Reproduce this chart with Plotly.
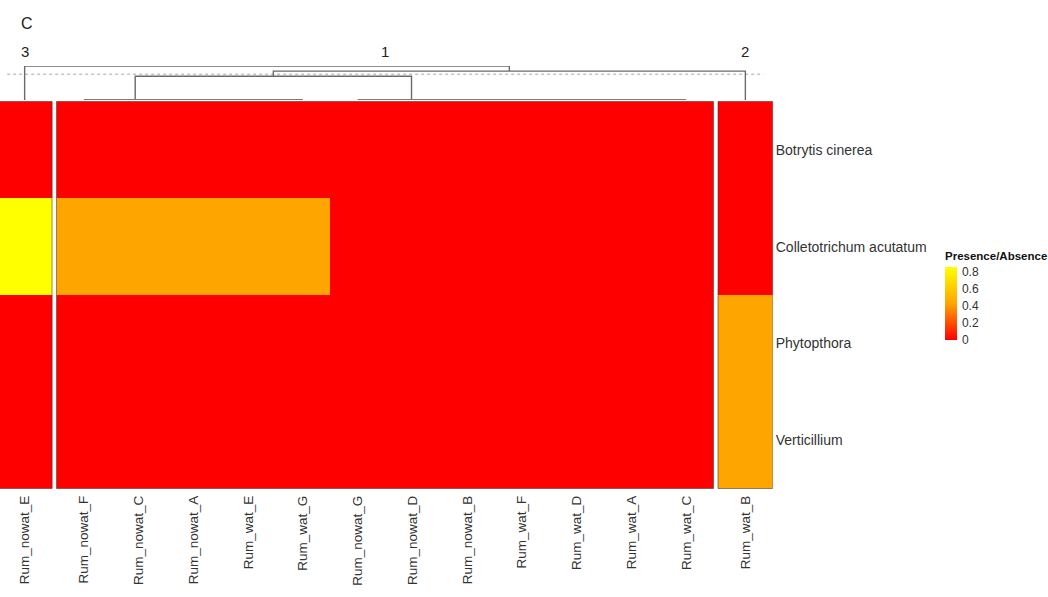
import numpy as np
import plotly.graph_objects as go

# ---- data -------------------------------------------------------------
species = ["Botrytis cinerea", "Colletotrichum acutatum", "Phytopthora", "Verticillium"]

cluster3_samples = ["Rum_nowat_E"]
cluster1_samples = ["Rum_nowat_F", "Rum_nowat_C", "Rum_nowat_A", "Rum_wat_E", "Rum_wat_G",
                    "Rum_nowat_G", "Rum_nowat_D", "Rum_nowat_B", "Rum_wat_F", "Rum_wat_D",
                    "Rum_wat_A", "Rum_wat_C"]
cluster2_samples = ["Rum_wat_B"]

cluster3_values = [[0.0], [0.857], [0.0], [0.0]]
cluster1_values = [
    [0.0, 0.0, 0.0, 0.0, 0.0, 0.0, 0.0, 0.0, 0.0, 0.0, 0.0, 0.0],
    [0.429, 0.429, 0.429, 0.429, 0.429, 0.0, 0.0, 0.0, 0.0, 0.0, 0.0, 0.0],
    [0.0, 0.0, 0.0, 0.0, 0.0, 0.0, 0.0, 0.0, 0.0, 0.0, 0.0, 0.0],
    [0.0, 0.0, 0.0, 0.0, 0.0, 0.0, 0.0, 0.0, 0.0, 0.0, 0.0, 0.0],
]
cluster2_values = [[0.0], [0.0], [0.429], [0.429]]

panel_labels = ["3", "1", "2"]

# column dendrogram: (left, right, height); leaves are sample names
left_chain = ("Rum_nowat_F", ("Rum_nowat_C", ("Rum_nowat_A", ("Rum_wat_E", "Rum_wat_G", 0.0), 0.0), 0.0), 0.0)
right_chain = ("Rum_nowat_G", ("Rum_nowat_D", ("Rum_nowat_B", ("Rum_wat_F", ("Rum_wat_D",
               ("Rum_wat_A", "Rum_wat_C", 0.0), 0.0), 0.0), 0.0), 0.0), 0.0)
col_tree = ("Rum_nowat_E", ((left_chain, right_chain, 0.70), "Rum_wat_B", 0.85), 1.0)
cut_height = 0.76

# ---- geometry ---------------------------------------------------------
W, H = 1048, 597
COL_PX = 54.75          # pixel width of one column
GAP = 0.082             # gap between slices, in column widths
X0 = 0.05               # left edge of the visible x range

panels = [(cluster3_samples, cluster3_values),
          (cluster1_samples, cluster1_values),
          (cluster2_samples, cluster2_values)]

FONT = "Liberation Sans, Arial, sans-serif"
colorscale = [[0.0, "#FF0000"], [0.5, "#FFA500"], [1.0, "#FFFF00"]]

fig = go.Figure()

centers = {}
tickvals, ticktext = [], []
panel_bounds = []
start = 0.0
for names, vals in panels:
    n = len(names)
    edges = start + np.arange(n + 1)
    fig.add_trace(go.Heatmap(
        z=vals, x=edges, y=species, coloraxis="coloraxis",
        hoverinfo="skip", xaxis="x", yaxis="y"))
    for i, nm in enumerate(names):
        c = start + i + 0.5
        centers[nm] = c
        tickvals.append(c)
        ticktext.append(nm)
    panel_bounds.append((start, start + n))
    start = start + n + GAP
x_max = start - GAP

# panel outlines
for a, b in panel_bounds:
    fig.add_shape(type="rect", xref="x", yref="y", x0=a, x1=b, y0=-0.5, y1=len(species) - 0.5,
                  line=dict(color="rgba(70,50,50,0.55)", width=1), fillcolor="rgba(0,0,0,0)")

# dendrogram segments
seg_x, seg_y = [], []
zero_x, zero_y = [], []


def walk(node):
    if isinstance(node, str):
        return centers[node], 0.0
    left, right, h = node
    xl, hl = walk(left)
    xr, hr = walk(right)
    if h == 0:
        zero_x.extend([xl, xr, None])
        zero_y.extend([0.0, 0.0, None])
    else:
        seg_x.extend([xl, xl, xr, xr, None])
        seg_y.extend([hl, h, h, hr, None])
    return (xl + xr) / 2.0, h


walk(col_tree)

fig.add_trace(go.Scatter(x=[X0 + 0.13, x_max - 0.17], y=[cut_height, cut_height], mode="lines",
                         line=dict(color="#a8a8a8", width=1, dash="dot"),
                         xaxis="x", yaxis="y2", hoverinfo="skip", showlegend=False))
fig.add_trace(go.Scatter(x=seg_x, y=seg_y, mode="lines",
                         line=dict(color="#6a6a6a", width=1.4),
                         xaxis="x", yaxis="y2", hoverinfo="skip", showlegend=False))
fig.add_trace(go.Scatter(x=zero_x, y=zero_y, mode="lines",
                         line=dict(color="#8a7670", width=2.2),
                         xaxis="x", yaxis="y2", hoverinfo="skip", showlegend=False))

# slice labels above the dendrogram
for (a, b), lab in zip(panel_bounds, panel_labels):
    fig.add_annotation(x=(a + b) / 2.0, y=1 - 52 / H, xref="x", yref="paper", text=lab,
                       yanchor="middle", xanchor="center",
                       showarrow=False, font=dict(family=FONT, size=15, color="#222222"))

fig.add_annotation(x=27 / W, y=1 - 23 / H, xref="paper", yref="paper", text="C",
                   yanchor="middle", xanchor="center",
                   showarrow=False, font=dict(family=FONT, size=16, color="#222222"))

# legend title (an annotation, so it does not push the right margin)
fig.add_annotation(x=943 / W, y=1 - 256 / H, xref="paper", yref="paper",
                   text="<b>Presence/Absence</b>", xanchor="left", yanchor="middle",
                   showarrow=False, font=dict(family=FONT, size=11.5, color="#111111"))

x_right_px = (x_max - X0) * COL_PX
legend_ticks = [0, 0.2, 0.4, 0.6, 0.8]

fig.update_layout(
    width=W, height=H,
    margin=dict(l=0, r=0, t=0, b=0),
    paper_bgcolor="white", plot_bgcolor="white",
    showlegend=False,
    font=dict(family=FONT, color="#333333"),
    xaxis=dict(domain=[0, x_right_px / W], range=[X0, x_max], anchor="y",
               tickvals=tickvals, ticktext=ticktext, tickangle=-90,
               tickfont=dict(family=FONT, size=13.5, color="#333333"),
               ticklabelstandoff=3,
               showgrid=False, zeroline=False, showline=False, ticks=""),
    yaxis=dict(domain=[1 - 489 / H, 1 - 101 / H], side="right", anchor="x",
               autorange="reversed", showgrid=False, zeroline=False, showline=False, ticks="",
               ticklabelstandoff=2,
               tickfont=dict(family=FONT, size=14, color="#333333")),
    yaxis2=dict(domain=[1 - 100 / H, 1 - 66 / H], range=[0, 1], anchor="x", visible=False),
    coloraxis=dict(
        colorscale=colorscale, cmin=0, cmax=0.857,
        colorbar=dict(
            x=945 / W, xanchor="left", xref="paper",
            y=1 - 340 / H, yanchor="bottom", yref="paper",
            lenmode="pixels", len=73, thickness=12, thicknessmode="pixels",
            outlinewidth=0, ticks="outside", ticklen=3, tickcolor="rgba(0,0,0,0)",
            xpad=0, ypad=0,
            tickvals=legend_ticks, ticktext=[str(t) if t else "0" for t in legend_ticks],
            tickfont=dict(family=FONT, size=12, color="#333333"),
        ),
    ),
)

fig.write_html("out.html")
